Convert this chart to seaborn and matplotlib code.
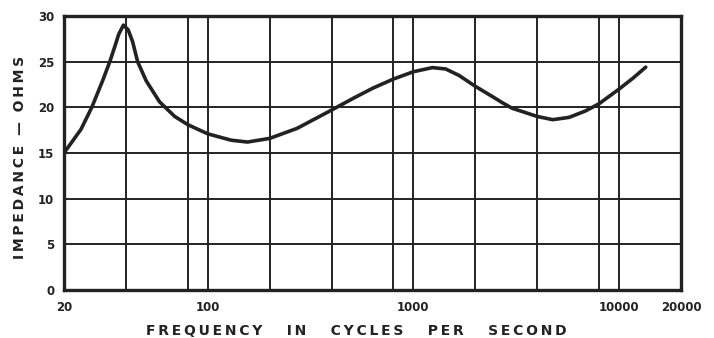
import matplotlib
matplotlib.use("Agg")
import matplotlib.pyplot as plt
import seaborn as sns
import pandas as pd

# Impedance curve of the loudspeaker, read along the frequency axis
freq_hz = [20, 24.2, 27.3, 30.8, 33.4, 35.5, 36.9, 38.9, 41.0, 43.1, 45.6,
           50.2, 58.3, 69.1, 80, 100, 130, 156, 200, 272, 400, 511, 635,
           800, 1000, 1238, 1435, 1664, 2000, 2412, 2709, 3020, 4000, 4754,
           5713, 6861, 8000, 10000, 11690, 13480]
impedance_ohms = [15.0, 17.6, 20.0, 22.9, 25.0, 26.8, 28.0, 29.0, 28.5, 27.2,
                  25.0, 22.9, 20.6, 19.0, 18.1, 17.1, 16.4, 16.2, 16.6, 17.7,
                  19.7, 21.0, 22.1, 23.1, 23.9, 24.35, 24.2, 23.5, 22.3, 21.2,
                  20.5, 19.9, 19.0, 18.65, 18.9, 19.6, 20.4, 22.0, 23.2, 24.4]

x_tick_values = [20, 100, 1000, 10000, 20000]
x_tick_labels = ["20", "100", "1000", "10000", "20000"]
x_grid_values = [40, 80, 200, 400, 800, 2000, 4000, 8000]
y_tick_values = [0, 5, 10, 15, 20, 25, 30]

x_title_words = ["FREQUENCY", "IN", "CYCLES", "PER", "SECOND"]
y_title_words = ["IMPEDANCE", "—", "OHMS"]


def spaced(words, gap="   "):
    """Open up the lettering with thin spaces, like a hand-lettered caption."""
    thin = "\u2009"
    return gap.join(thin.join(w) for w in words)


df = pd.DataFrame({"freq": freq_hz, "ohms": impedance_ohms})

sns.set_theme(style="white")
plt.rcParams["font.family"] = ["DejaVu Sans"]

ink = "#222222"
fig = plt.figure(figsize=(7.14, 3.38), dpi=100)
ax = fig.add_axes([64 / 714, 48 / 338, (681 - 64) / 714, (290 - 16) / 338])

sns.lineplot(data=df, x="freq", y="ohms", ax=ax, color=ink,
             linewidth=2.6, solid_capstyle="round", solid_joinstyle="round",
             zorder=3)

ax.set_xscale("log")
ax.set_xlim(20, 20000)
ax.set_ylim(0, 30)

ax.set_xticks(x_tick_values)
ax.set_xticklabels(x_tick_labels)
ax.set_xticks(x_grid_values, minor=True)
ax.set_xticklabels([], minor=True)
ax.set_yticks(y_tick_values)
ax.set_yticklabels([str(v) for v in y_tick_values])

ax.grid(True, which="both", axis="x", color=ink, linewidth=1.4)
ax.grid(True, which="major", axis="y", color=ink, linewidth=1.4)
ax.set_axisbelow(True)

for side in ax.spines.values():
    side.set_color(ink)
    side.set_linewidth(2.4)
    side.set_visible(True)

ax.tick_params(axis="both", which="both", length=0)
ax.tick_params(axis="x", pad=8, labelsize=8.5, colors=ink)
ax.tick_params(axis="y", pad=7, labelsize=8.5, colors=ink)
for lbl in ax.get_xticklabels() + ax.get_yticklabels():
    lbl.set_fontweight("bold")

ax.set_xlabel(spaced(x_title_words, gap="     "), fontsize=10,
              fontweight="bold", color=ink)
ax.xaxis.label.set_verticalalignment("center")
ax.xaxis.set_label_coords((356 - 64) / 617, -(331 - 290) / 274)

ax.set_ylabel(spaced(y_title_words, gap="  "), fontsize=10,
              fontweight="bold", color=ink)
ax.yaxis.label.set_verticalalignment("center")
ax.yaxis.set_label_coords((20 - 64) / 617, (290 - 157) / 274)

fig.patch.set_facecolor("white")
ax.set_facecolor("white")
fig.savefig("out.png", dpi=100, facecolor="white")
